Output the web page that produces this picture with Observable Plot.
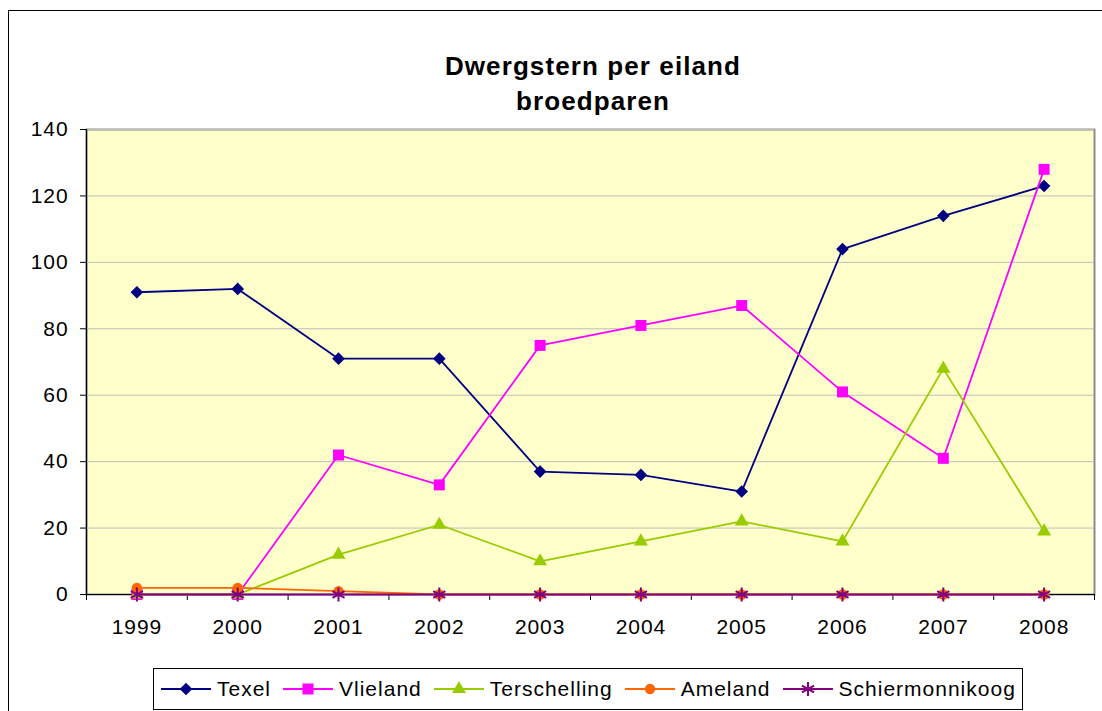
<!DOCTYPE html>
<html><head><meta charset="utf-8">
<script src="https://cdn.jsdelivr.net/npm/d3@7"></script>
<script src="https://cdn.jsdelivr.net/npm/@observablehq/plot@0.6"></script>
<style>
html,body{margin:0;padding:0;background:#fff;overflow:hidden;width:1102px;height:711px;}
body{font-family:Arial,"Liberation Sans",sans-serif;position:relative;}
#frame{position:absolute;left:8px;top:10px;width:1200px;height:800px;border:1.5px solid #000;box-sizing:border-box;}
#title{position:absolute;left:0;width:1186px;top:49px;text-align:center;font-weight:bold;font-size:26px;line-height:35px;letter-spacing:1.1px;color:#000;}
#chart{position:absolute;left:0;top:110px;}
#legend{position:absolute;left:153px;top:668px;width:870px;height:42px;border:1px solid #000;box-sizing:border-box;display:flex;align-items:center;padding-left:7px;font-size:21px;letter-spacing:1px;color:#000;}
.item{display:flex;align-items:center;margin-right:12px;}
.item svg{margin-right:6px;}
</style>
</head><body>
<div id="frame"></div>
<div id="title">Dwergstern per eiland<br>broedparen</div>
<div id="chart"></div>
<div id="legend"></div>
<script>
const years = [1999, 2000, 2001, 2002, 2003, 2004, 2005, 2006, 2007, 2008];
const seriesNames = ["Texel", "Vlieland", "Terschelling", "Ameland", "Schiermonnikoog"];
const texel = [91, 92, 71, 71, 37, 36, 31, 104, 114, 123];
const vlieland = [0, 0, 42, 33, 75, 81, 87, 61, 41, 128];
const terschelling = [0, 0, 12, 21, 10, 16, 22, 16, 68, 19];
const ameland = [2, 2, 1, 0, 0, 0, 0, 0, 0, 0];
const schiermonnikoog = [0, 0, 0, 0, 0, 0, 0, 0, 0, 0];
const yTicks = [0, 20, 40, 60, 80, 100, 120, 140];

const colors = ["#000080", "#FF00FF", "#99CC00", "#FF6600", "#800080"];
const symbols = ["diamond2", "square", "triangle", "circle", "asterisk"];
const sizes = [5.7, 6.2, 5.2, 5.2, 6.6];
const valueLists = [texel, vlieland, terschelling, ameland, schiermonnikoog];

const data = seriesNames.flatMap((s, i) => years.map((y, j) => ({series: s, year: y, value: valueLists[i][j]})));
const boundaries = [...years.map(y => y - 0.5), years[years.length - 1] + 0.5];

const seriesMarks = seriesNames.flatMap((s, i) => {
  const d = data.filter(r => r.series === s);
  const stroked = symbols[i] === "asterisk";
  return [
    Plot.line(d, {x: "year", y: "value", stroke: colors[i], strokeWidth: 1.8}),
    Plot.dot(d, {x: "year", y: "value", symbol: () => symbols[i], r: sizes[i],
      fill: stroked ? "none" : colors[i], stroke: stroked ? colors[i] : "none", strokeWidth: stroked ? 2 : 0})
  ];
});

const chart = Plot.plot({
  width: 1102,
  height: 530,
  marginLeft: 86,
  marginRight: 8,
  marginTop: 19,
  marginBottom: 46,
  style: {fontFamily: "Arial, 'Liberation Sans', sans-serif", fontSize: "21px", letterSpacing: "0.9px", color: "#000", background: "transparent", overflow: "visible"},
  x: {domain: [years[0] - 0.5, years[years.length - 1] + 0.5], axis: null},
  y: {domain: [0, 140], axis: null},
  symbol: {domain: symbols, range: symbols},
  marks: [
    Plot.frame({fill: "#FFFFCC", stroke: "#8c8c8c", strokeWidth: 2}),
    Plot.ruleY(yTicks.slice(1), {stroke: "#bdbdbd", strokeWidth: 1}),
    Plot.ruleX([years[0] - 0.5], {stroke: "#000", strokeWidth: 1.2}),
    Plot.ruleY([0], {stroke: "#000", strokeWidth: 1.2}),
    Plot.axisY(yTicks, {anchor: "left", tickSize: 6, tickPadding: 12, fontSize: 21, label: null, stroke: "#000"}),
    Plot.axisX(boundaries, {anchor: "bottom", tickSize: 6, tickFormat: () => "", label: null, stroke: "#000"}),
    Plot.axisX(years, {anchor: "bottom", tickSize: 0, tickPadding: 25, tickFormat: d => String(d), fontSize: 21, label: null}),
    ...seriesMarks
  ]
});
document.getElementById("chart").appendChild(chart);

// legend
const legend = d3.select("#legend");
const symMap = {diamond2: d3.symbolDiamond2, square: d3.symbolSquare, triangle: d3.symbolTriangle, circle: d3.symbolCircle, asterisk: d3.symbolAsterisk};
seriesNames.forEach((s, i) => {
  const item = legend.append("div").attr("class", "item");
  const svg = item.append("svg").attr("width", 50).attr("height", 20);
  svg.append("line").attr("x1", 0).attr("x2", 50).attr("y1", 10).attr("y2", 10).attr("stroke", colors[i]).attr("stroke-width", 1.8);
  const stroked = symbols[i] === "asterisk";
  svg.append("path").attr("transform", "translate(25,10)")
    .attr("d", d3.symbol(symMap[symbols[i]], Math.PI * sizes[i] * sizes[i])())
    .attr("fill", stroked ? "none" : colors[i]).attr("stroke", stroked ? colors[i] : "none").attr("stroke-width", 2);
  item.append("span").text(s);
});
</script>
</body></html>
